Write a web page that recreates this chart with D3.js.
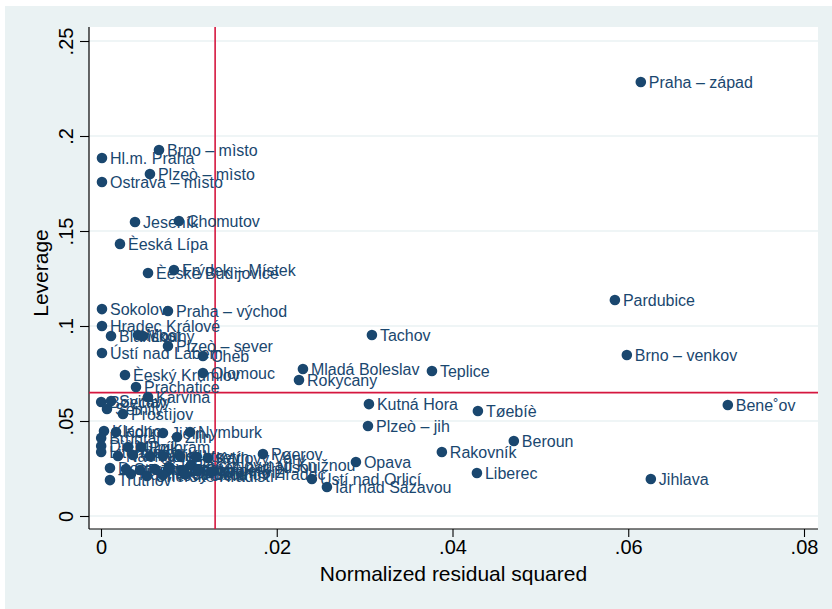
<!DOCTYPE html>
<html><head><meta charset="utf-8">
<script src="https://cdn.jsdelivr.net/npm/d3@7"></script>
<style>body{margin:0;background:#fff}svg{display:block;font-family:"Liberation Sans",Arial,Helvetica,sans-serif}</style>
</head><body>
<svg id="chart" width="832" height="609"></svg>
<script>
// District names (as encoded in the source output)
const districts = [
"Praha – západ","Brno – mìsto","Hl.m. Praha","Plzeò – mìsto","Ostrava – mìsto","Jeseník","Chomutov","Èeská Lípa",
"Èeské Budìjovice","Frýdek – Místek","Sokolov","Praha – východ","Pardubice","Hradec Králové","Tachov","Brno – venkov",
"Blansko","Most","Louny","Plzeò – sever","Ústí nad Labem","Cheb","Mladá Boleslav","Teplice","Olomouc","Èeský Krumlov",
"Rokycany","Prachatice","Karviná","Bene˚ov","Kutná Hora","Tøebíè","Plzeò – jih","Beroun","Rakovník","Opava","Liberec",
"Jihlava","Ústí nad Orlicí","Ïár nad Sázavou","Pøerov","Prostìjov","Karlovy Vary","Nymburk","Jablonec nad Nisou",
"Rychnov nad Knìžnou","Trutnov","Havlíèkùv Brod","Bøeclav","Svitavy","Semily",
"Kladno","Kolín","Jièín","Zlín","Bruntál","Dìèín","Litomìøice","Mìlník","Pøíbram","Náchod","Chrudim","Tábor","Písek",
"Klatovy","Vsetín","Domažlice","Strakonice","Pelhøimov","Hodonín","Vyškov","Znojmo","Šumperk","Kromìøíž",
"Uherské Hradištì","Nový Jièín","Jindøichùv Hradec"
];
// Normalized residual squared
const residSq = [
0.06143,0.00660,0.00011,0.00557,0.00011,0.00387,0.00887,0.00216,
0.00535,0.00830,0.00011,0.00762,0.05848,0.00011,0.03083,0.05984,
0.00114,0.00421,0.00478,0.00762,0.00011,0.01160,0.02298,0.03766,0.01160,0.00273,
0.02253,0.00398,0.00535,0.07133,0.03049,0.04289,0.03038,0.04698,0.03879,0.02901,0.04278,
0.06257,0.02400,0.02571,0.01843,0.00250,0.01217,0.01013,0.00774,
0.01024,0.00102,0.00341,0.00002,0.00114,0.00068,
0.00034,0.00171,0.00705,0.00865,0.00002,0.00002,0.00002,0.00307,0.00455,0.00193,0.00364,0.00557,0.00705,
0.00899,0.01081,0.00102,0.00284,0.00444,0.00614,0.00762,0.00933,0.01104,0.01251,
0.00523,0.00705,0.00956
];
// Leverage
const leverage = [
0.2284,0.1926,0.1884,0.1800,0.1758,0.1547,0.1553,0.1432,
0.1279,0.1295,0.1089,0.1079,0.1137,0.1000,0.0953,0.0847,
0.0947,0.0953,0.0947,0.0895,0.0858,0.0842,0.0774,0.0763,0.0753,0.0742,
0.0716,0.0679,0.0626,0.0584,0.0589,0.0553,0.0474,0.0395,0.0337,0.0284,0.0226,
0.0195,0.0195,0.0153,0.0326,0.0537,0.0305,0.0442,0.0258,
0.0268,0.0189,0.0221,0.0600,0.0605,0.0563,
0.0447,0.0442,0.0437,0.0416,0.0411,0.0368,0.0337,0.0363,0.0363,0.0316,0.0321,0.0316,0.0316,
0.0316,0.0311,0.0253,0.0247,0.0242,0.0247,0.0242,0.0242,0.0242,0.0232,
0.0211,0.0216,0.0221
];
const xTicks = [0, 0.02, 0.04, 0.06, 0.08];
const xTickLabels = ["0", ".02", ".04", ".06", ".08"];
const yTicks = [0, 0.05, 0.1, 0.15, 0.2, 0.25];
const yTickLabels = ["0", ".05", ".1", ".15", ".2", ".25"];
const meanResid = 1/77;   // vertical reference line
const meanLev = 5/77;     // horizontal reference line
const xTitle = "Normalized residual squared";
const yTitle = "Leverage";

const svg = d3.select("#chart");
const W = 832, H = 609;
const plot = {left: 89, right: 818, top: 27, bottom: 529};
const x = d3.scaleLinear().domain([0, 0.08]).range([101, 804]);
const y = d3.scaleLinear().domain([0, 0.25]).range([516, 41]);
const navy = "#1a476f", bg = "#eaf2f3", red = "#d5173f";

svg.append("rect").attr("x",5).attr("y",6).attr("width",W-5).attr("height",H-6).attr("fill",bg);
svg.append("rect").attr("x",plot.left).attr("y",plot.top).attr("width",plot.right-plot.left).attr("height",plot.bottom-plot.top).attr("fill","#fff");

// gridlines
svg.append("g").selectAll("line").data(yTicks).join("line")
  .attr("x1",plot.left).attr("x2",plot.right)
  .attr("y1",d=>y(d)).attr("y2",d=>y(d))
  .attr("stroke",bg).attr("stroke-width",1.5);

// axes
const yAxis = d3.axisLeft(y).tickValues(yTicks).tickSize(9).tickFormat((d,i)=>yTickLabels[i]);
const gy = svg.append("g").attr("transform",`translate(${plot.left},0)`).call(yAxis);
gy.select(".domain").remove();
gy.selectAll(".tick line").attr("stroke","#000").attr("stroke-width",1.1);
gy.selectAll(".tick text").attr("transform","rotate(-90)").attr("x",0).attr("y",-16).attr("dy",0)
  .attr("text-anchor","middle").attr("font-size",20).attr("fill","#000").style("font-family","Liberation Sans, Arial, sans-serif");

const xAxis = d3.axisBottom(x).tickValues(xTicks).tickSize(8).tickFormat((d,i)=>xTickLabels[i]);
const gx = svg.append("g").attr("transform",`translate(0,${plot.bottom})`).call(xAxis);
gx.select(".domain").remove();
gx.selectAll(".tick line").attr("stroke","#000").attr("stroke-width",1.1);
gx.selectAll(".tick text").attr("font-size",20).attr("fill","#000").attr("y",11).style("font-family","Liberation Sans, Arial, sans-serif");

svg.append("line").attr("x1",plot.left).attr("x2",plot.left).attr("y1",plot.top).attr("y2",plot.bottom).attr("stroke","#000").attr("stroke-width",1.2);
svg.append("line").attr("x1",plot.left).attr("x2",plot.right).attr("y1",plot.bottom).attr("y2",plot.bottom).attr("stroke","#000").attr("stroke-width",1.2);

// reference lines
svg.append("line").attr("x1",x(meanResid)).attr("x2",x(meanResid)).attr("y1",plot.top).attr("y2",plot.bottom).attr("stroke",red).attr("stroke-width",1.6);
svg.append("line").attr("x1",plot.left).attr("x2",plot.right).attr("y1",y(meanLev)).attr("y2",y(meanLev)).attr("stroke",red).attr("stroke-width",1.6);

// titles
svg.append("text").attr("x",(plot.left+plot.right)/2).attr("y",581).attr("text-anchor","middle").attr("font-size",21).attr("fill","#000").text(xTitle);
svg.append("text").attr("transform","translate(48,273) rotate(-90)").attr("text-anchor","middle").attr("font-size",21).attr("fill","#000").text(yTitle);

// points and labels
const data = districts.map((n,i)=>({name:n, r:residSq[i], l:leverage[i]}));
const pg = svg.append("g");
data.forEach(d=>{
  pg.append("circle").attr("cx",x(d.r)).attr("cy",y(d.l)).attr("r",5.3).attr("fill",navy);
  pg.append("text").attr("x",x(d.r)+8).attr("y",y(d.l)).attr("dy","0.36em").attr("font-size",16).attr("fill",navy).text(d.name);
});
</script>
</body></html>
